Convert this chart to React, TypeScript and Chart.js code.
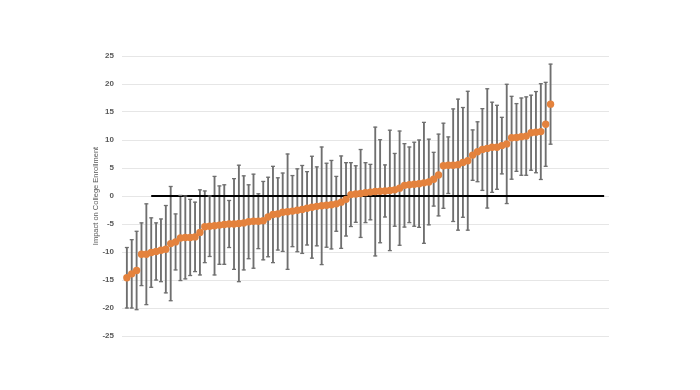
import React, { useEffect, useRef } from "react";
import { Chart, registerables } from "chart.js";

Chart.register(...registerables);

// Estimated impact for each of the 88 sorted units
const values: number[] = [
  -14.6, -13.9, -13.3, -10.4, -10.4, -10.1, -9.9, -9.7, -9.5, -8.5,
  -8.2, -7.5, -7.4, -7.4, -7.3, -6.5, -5.5, -5.4, -5.3, -5.2,
  -5.1, -5.0, -5.0, -4.9, -4.8, -4.6, -4.5, -4.5, -4.4, -3.75,
  -3.3, -3.2, -2.9, -2.8, -2.7, -2.55, -2.4, -2.2, -2.0, -1.85,
  -1.75, -1.65, -1.55, -1.4, -1.1, -0.6, 0.25, 0.35, 0.45, 0.6,
  0.7, 0.8, 0.85, 0.9, 1.0, 1.1, 1.4, 1.9, 2.0, 2.1,
  2.2, 2.35, 2.5, 3.0, 3.75, 5.4, 5.5, 5.5, 5.6, 6.0,
  6.3, 7.3, 7.9, 8.3, 8.5, 8.7, 8.7, 9.0, 9.3, 10.4,
  10.45, 10.6, 10.7, 11.3, 11.4, 11.5, 12.8, 16.4,
];

// Half-width of each confidence interval
const errors: number[] = [
  5.4, 6.1, 7.0, 5.6, 9.0, 6.2, 5.1, 5.6, 7.8, 10.2,
  5.0, 7.6, 7.4, 6.8, 6.2, 7.6, 6.4, 5.4, 8.8, 7.0,
  7.1, 4.2, 8.1, 10.4, 8.4, 6.6, 8.4, 4.9, 7.0, 7.1,
  8.6, 6.45, 7.0, 10.3, 6.35, 7.4, 7.85, 6.55, 9.1, 7.05,
  10.5, 7.5, 7.9, 4.9, 8.25, 6.55, 5.7, 5.05, 7.85, 5.35,
  4.95, 11.5, 9.2, 4.65, 10.75, 6.5, 10.2, 7.45, 6.75, 7.5,
  7.8, 10.8, 7.65, 4.8, 7.3, 7.6, 5.05, 10.05, 11.7, 9.8,
  12.4, 4.5, 5.35, 7.3, 10.65, 8.05, 7.5, 5.05, 10.65, 7.4,
  6.05, 6.9, 7.0, 6.7, 7.25, 8.55, 7.5, 7.15,
];

// Positions (unit index) where the reference zero line starts and ends
const zeroLineX: number[] = [6, 99];

const yTicks = { min: -25, max: 25, step: 5 };
const xRange = { min: 0, max: 100 };
const yTitle = "Impact on College Enrollment";

const ORANGE = "#E4823D";
const BAR_GRAY = "#6f6f6f";

export default function App() {
  const ref = useRef<HTMLCanvasElement | null>(null);

  useEffect(() => {
    if (!ref.current) return;
    const idx = values.map((_, i) => i + 1);
    const chart = new Chart(ref.current, {
      type: "scatter",
      data: {
        datasets: [
          {
            type: "scatter",
            label: "estimate",
            data: values.map((v, i) => ({ x: idx[i], y: v })),
            pointRadius: 3.7,
            pointHoverRadius: 3.7,
            backgroundColor: ORANGE,
            borderColor: ORANGE,
            borderWidth: 0,
            order: 0,
          } as any,
          {
            type: "scatter",
            label: "capHigh",
            data: values.map((v, i) => ({ x: idx[i], y: v + errors[i] })),
            pointStyle: "line",
            pointRadius: 2,
            borderColor: BAR_GRAY,
            borderWidth: 1.3,
            order: 1,
          } as any,
          {
            type: "scatter",
            label: "capLow",
            data: values.map((v, i) => ({ x: idx[i], y: v - errors[i] })),
            pointStyle: "line",
            pointRadius: 2,
            borderColor: BAR_GRAY,
            borderWidth: 1.3,
            order: 1,
          } as any,
          {
            type: "line",
            label: "zero",
            data: zeroLineX.map((x) => ({ x, y: 0 })),
            borderColor: "#000000",
            borderWidth: 2,
            pointRadius: 0,
            order: 2,
          } as any,
          {
            type: "bar",
            label: "ci",
            data: values.map((v, i) => ({ x: idx[i], y: [v - errors[i], v + errors[i]] })),
            backgroundColor: BAR_GRAY,
            borderWidth: 0,
            barThickness: 1.2,
            order: 3,
          } as any,
        ],
      },
      options: {
        animation: false,
        responsive: false,
        devicePixelRatio: 1,
        events: [],
        layout: { padding: { top: 56, bottom: 54, left: 0, right: 91 } },
        plugins: {
          legend: { display: false },
          tooltip: { enabled: false },
        },
        scales: {
          x: {
            type: "linear",
            min: xRange.min,
            max: xRange.max,
            offset: false,
            display: false,
            grid: { display: false },
          },
          y: {
            type: "linear",
            min: yTicks.min,
            max: yTicks.max,
            afterFit: (s: any) => {
              s.width = 122;
            },
            border: { display: false },
            grid: { color: "#e6e6e6", lineWidth: 1, drawTicks: false },
            ticks: {
              stepSize: yTicks.step,
              padding: 8,
              color: "#595959",
              font: { family: "'Liberation Sans', Arial, sans-serif", size: 8, weight: "bold" },
            },
            title: {
              display: true,
              text: yTitle,
              color: "#595959",
              padding: { top: 91, bottom: 0 },
              font: { family: "'Liberation Sans', Arial, sans-serif", size: 7.5 },
            },
          },
        },
      },
    });
    return () => chart.destroy();
  }, []);

  return (
    <div style={{ position: "absolute", left: 0, top: 0, width: 700, height: 390, background: "#fff" }}>
      <canvas ref={ref} width={700} height={390} />
    </div>
  );
}
